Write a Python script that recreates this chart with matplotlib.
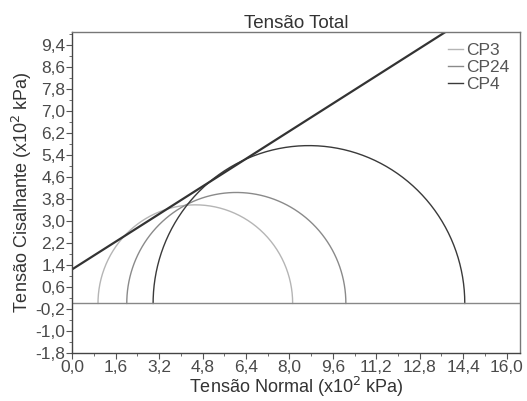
"""
Mohr circles - Tensão Total (CP3, CP24, CP4) with failure envelope.
"""
import numpy as np
import matplotlib
matplotlib.use("Agg")
import matplotlib.pyplot as plt
from matplotlib.ticker import MultipleLocator, FixedLocator, FuncFormatter

plt.rcParams["font.family"] = ["Liberation Sans", "DejaVu Sans"]

# data (x10^2 kPa)
samples = ["CP3", "CP24", "CP4"]
sigma3 = [0.95, 2.01, 2.98]
sigma1 = [8.12, 10.08, 14.46]
colors = ["#b5b5b5", "#8a8a8a", "#3a3a3a"]

# envelope: intercept and slope
env_c = 1.24
env_slope = 0.628
env_x = [0.0, 16.5]

x_ticks = [0.0, 1.6, 3.2, 4.8, 6.4, 8.0, 9.6, 11.2, 12.8, 14.4, 16.0]
y_ticks = [-1.8, -1.0, -0.2, 0.6, 1.4, 2.2, 3.0, 3.8, 4.6, 5.4, 6.2, 7.0, 7.8, 8.6, 9.4]


def comma(v, pos):
    return f"{v:.1f}".replace(".", ",")


fig = plt.figure(figsize=(5.27, 4.01), dpi=100)
ax = fig.add_axes([0.137, 0.12, 0.849, 0.80])

theta = np.linspace(0, np.pi, 300)
for name, s3, s1, c in zip(samples, sigma3, sigma1, colors):
    cen = (s1 + s3) / 2
    r = (s1 - s3) / 2
    ax.plot(cen + r * np.cos(theta), r * np.sin(theta), color=c, lw=1.0, label=name)

ex = np.array(env_x)
ax.plot(ex, env_c + env_slope * ex, color="#333333", lw=1.6)
ax.axhline(0, color="#888888", lw=1.0)

ax.set_xlim(0, 16.48)
ax.set_ylim(-1.8, 9.87)
ax.xaxis.set_major_locator(FixedLocator(x_ticks))
ax.xaxis.set_minor_locator(MultipleLocator(0.8))
ax.yaxis.set_major_locator(FixedLocator(y_ticks))
ax.yaxis.set_minor_locator(FixedLocator(np.arange(-1.8, 9.8, 0.4)))
ax.xaxis.set_major_formatter(FuncFormatter(comma))
ax.yaxis.set_major_formatter(FuncFormatter(comma))
ax.tick_params(which="both", direction="out", colors="#555555", labelcolor="#4a4a4a",
               labelsize=12.5, pad=1)
ax.tick_params(which="major", length=4)
ax.tick_params(which="minor", length=2)

for side, sp in ax.spines.items():
    sp.set_color("#444444" if side in ("left", "bottom") else "#777777")
    sp.set_linewidth(1.0)

ax.set_title("Tensão Total", fontsize=13.5, color="#333333", pad=3)
ax.set_xlabel("Tensão Normal (x10$^2$ kPa)", fontsize=13, color="#333333", labelpad=0)
ax.set_ylabel("Tensão Cisalhante (x10$^2$ kPa)", fontsize=13, color="#333333", labelpad=1)

leg = ax.legend(loc="upper right", frameon=False, fontsize=12.5, handlelength=0.9,
                handletextpad=0.15, labelspacing=0.12, borderaxespad=0.3,
                borderpad=0.3)
for t in leg.get_texts():
    t.set_color("#555555")

fig.savefig("out.png", dpi=100)
